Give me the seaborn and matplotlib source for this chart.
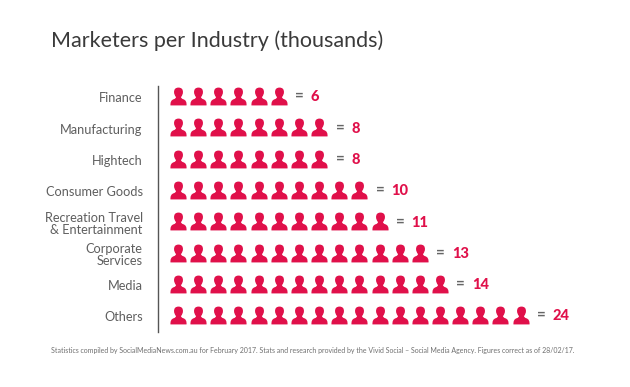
import numpy as np
import pandas as pd
import seaborn as sns
import matplotlib.pyplot as plt
from matplotlib.path import Path
from matplotlib.transforms import ScaledTranslation

categories = ["Finance", "Manufacturing", "Hightech", "Consumer Goods",
              "Recreation Travel\n& Entertainment", "Corporate\nServices", "Media", "Others"]
values = [6, 8, 8, 10, 11, 13, 14, 24]
# the Others row only shows 18 people even though it says 24
icons = [6, 8, 8, 10, 11, 13, 14, 18]

red = "#e0104a"
grey = "#5f5f5f"

sns.set_style("white")
plt.rcParams['font.family'] = ['Lato', 'DejaVu Sans']

# little person icon, curves for head and shoulders
verts = [(-0.9, -1), (0.9, -1),
         (0.95, -0.42), (0.52, -0.3),
         (0.3, -0.24), (0.28, -0.06),
         (0.5, 0.16), (0.5, 0.5),
         (0.5, 1), (0, 1),
         (-0.5, 1), (-0.5, 0.5),
         (-0.5, 0.16), (-0.28, -0.06),
         (-0.3, -0.24), (-0.52, -0.3),
         (-0.95, -0.42), (-0.9, -1),
         (-0.9, -1)]
codes = [Path.MOVETO, Path.LINETO,
         Path.CURVE3, Path.CURVE3,
         Path.CURVE3, Path.CURVE3,
         Path.CURVE3, Path.CURVE3,
         Path.CURVE3, Path.CURVE3,
         Path.CURVE3, Path.CURVE3,
         Path.CURVE3, Path.CURVE3,
         Path.CURVE3, Path.CURVE3,
         Path.CURVE3, Path.CURVE3,
         Path.CLOSEPOLY]
person = Path(verts, codes)

df = pd.DataFrame({
    "category": np.repeat(categories, icons),
    "position": np.concatenate([np.arange(n) for n in icons]),
})

fig = plt.figure(figsize=(6.3, 3.87), dpi=100)
ax = fig.add_axes([158 / 630, 1 - 332 / 387, 442 / 630, 246 / 387])

sns.scatterplot(data=df, x="position", y="category", marker=person, s=165,
                color=red, linewidth=0, ax=ax, legend=False)

ax.set_xlim(-0.993, 20.94)
ax.set_ylim(7.54, -0.32)
ax.set_xlabel("")
ax.set_ylabel("")
ax.set_xticks([])
sns.despine(ax=ax, top=True, right=True, bottom=True)
ax.spines["left"].set_color("#555555")
ax.spines["left"].set_linewidth(1.0)
ax.tick_params(axis="y", length=0, pad=11, labelsize=9.2, labelcolor=grey)
for lab in ax.get_yticklabels():
    lab.set_linespacing(1.05)
    lab.set_transform(lab.get_transform() + ScaledTranslation(0, -1 / 72, fig.dpi_scale_trans))

for i, (v, n) in enumerate(zip(values, icons)):
    ax.annotate("=", (n - 1, i), xytext=(15, 0), textcoords="offset points",
                ha="center", va="center", fontsize=11, fontweight="bold", color="#666666")
    ax.annotate(str(v), (n - 1, i), xytext=(23, -1), textcoords="offset points",
                ha="left", va="center", fontsize=10.5, fontweight="black", color=red)

fig.text(51 / 630, 1 - 41 / 387, "Marketers per Industry (thousands)", fontsize=15.5,
         color="#3a3a3a", ha="left", va="center")
fig.text(313 / 630, 1 - 351 / 387,
         "Statistics compiled by SocialMediaNews.com.au for February 2017. Stats and research provided by the Vivid Social \u2013 Social Media Agency. Figures correct as of 28/02/17.",
         fontsize=5.0, color="#707070", ha="center", va="center")

fig.savefig("out.png", dpi=100)
